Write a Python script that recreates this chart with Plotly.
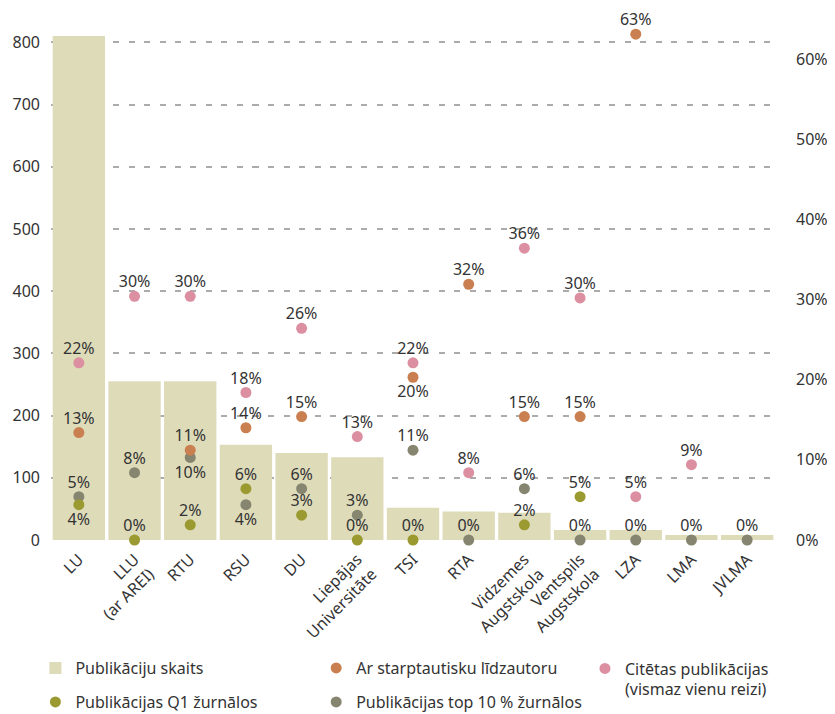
import plotly.graph_objects as go

# ---------------- data ----------------
categories = ["LU", "LLU<br>(ar AREI)", "RTU", "RSU", "DU", "Liepājas<br>Universitāte",
              "TSI", "RTA", "Vidzemes<br>Augstskola", "Ventspils<br>Augstskola",
              "LZA", "LMA", "JVLMA"]
publications = [810, 255, 255, 153, 140, 133, 52, 46, 44, 16, 16, 8, 8]
intl_coauthor = [13.4, None, 11.2, 14.0, 15.4, None, 20.3, 31.9, 15.4, 15.4, 63.1, None, None]
cited = [22.1, 30.4, 30.4, 18.4, 26.4, 12.9, 22.1, 8.4, 36.4, 30.2, 5.4, 9.4, None]
q1_journals = [4.4, 0, 1.9, 6.4, 3.1, 0, 0, None, 1.9, 5.4, None, None, None]
top10_journals = [5.4, 8.4, 10.3, 4.4, 6.4, 3.1, 11.2, 0, 6.4, 0, 0, 0, 0]
left_ticks = [0, 100, 200, 300, 400, 500, 600, 700, 800]
right_ticks = [0, 10, 20, 30, 40, 50, 60]

# ---------------- style ----------------
FONT = "Noto Sans"
TXT = "#333333"
C_BAR = "#dedbb9"
C_INTL = "#c97f4f"
C_CITED = "#dc8fa1"
C_Q1 = "#9b9a31"
C_TOP10 = "#86856f"

OFF = 8  # default page margin around the figure
W, H = 835 - OFF, 714 - OFF
M_L, M_R, M_T, M_B = 50.6 - OFF, 59.8, 20 - OFF, 174
PW, PH = W - M_L - M_R, H - M_T - M_B
PX_PER_UNIT_L = 0.6221
PX_PER_PCT = 8.017
DOT = 11
# invisible "spacer" marker sizes that set the label distance from the dot
SPACER_TOP, SPACER_BOTTOM = 6.2, 11.5


def label_pos(n, bottom_idx=()):
    return ["bottom center" if i in bottom_idx else "top center" for i in range(n)]


def labels(vals):
    return ["" if v is None else f"{round(v)}%" for v in vals]


def px_x(p):  # page pixel -> paper fraction
    return (p - OFF - M_L) / PW


def px_y(p):
    return 1 - (p - OFF - M_T) / PH


fig = go.Figure()

fig.add_trace(go.Bar(
    x=categories, y=publications, name="Publikāciju skaits",
    marker=dict(color=C_BAR, line=dict(width=0)),
    legend="legend", hoverinfo="skip",
))

series = [
    (top10_journals, "Publikācijas top 10 % žurnālos", C_TOP10, "legend5", (2, 3)),
    (q1_journals, "Publikācijas Q1 žurnālos", C_Q1, "legend4", (0,)),
    (intl_coauthor, "Ar starptautisku līdzautoru", C_INTL, "legend2", (6,)),
    (cited, "Citētas publikācijas<br>(vismaz vienu reizi)", C_CITED, "legend3", ()),
]
for vals, name, col, leg, bottoms in series:
    fig.add_trace(go.Scatter(
        x=categories, y=vals, name=name, mode="markers", yaxis="y2",
        marker=dict(color=col, size=DOT, line=dict(width=0)),
        legend=leg, hoverinfo="skip", cliponaxis=False,
    ))

for vals, name, col, leg, bottoms in series:
    pos = label_pos(len(vals), bottoms)
    fig.add_trace(go.Scatter(
        x=categories, y=vals, mode="markers+text", yaxis="y2", showlegend=False,
        marker=dict(color="rgba(0,0,0,0)", line=dict(width=0),
                    size=[SPACER_BOTTOM if p.startswith("bottom") else SPACER_TOP for p in pos]),
        text=labels(vals), textposition=pos,
        textfont=dict(family=FONT, size=16, color=TXT),
        hoverinfo="skip", cliponaxis=False,
    ))

fig.update_layout(
    template="none",
    width=W, height=H,
    margin=dict(l=M_L, r=M_R, t=M_T, b=M_B, autoexpand=False),
    paper_bgcolor="white", plot_bgcolor="white",
    font=dict(family=FONT, size=16, color=TXT),
    bargap=0.06,
    showlegend=True,
    xaxis=dict(
        range=[-0.5, len(categories) - 0.5],
        tickangle=-45, showgrid=False, showline=False, zeroline=False,
        tickfont=dict(family=FONT, size=16, color=TXT), ticks="", automargin=False,
        ticklabelstandoff=6,
    ),
    yaxis=dict(
        range=[0, PH / PX_PER_UNIT_L], tickvals=left_ticks,
        ticktext=[str(v) for v in left_ticks],
        showgrid=True, gridcolor="#ababab", gridwidth=1.5, griddash="6px,9.5px",
        zeroline=False, showline=False, ticks="", ticklabelstandoff=10,
        tickfont=dict(family=FONT, size=16, color=TXT), automargin=False,
    ),
    yaxis2=dict(
        overlaying="y", side="right", range=[0, PH / PX_PER_PCT],
        tickvals=right_ticks, ticktext=[f"{v}%" for v in right_ticks],
        showgrid=False, zeroline=False,
        showline=False, ticks="", ticklabelstandoff=20, automargin=False,
        tickfont=dict(family=FONT, size=16, color=TXT),
    ),
)

leg_common = dict(font=dict(family=FONT, size=16, color=TXT), bgcolor="rgba(0,0,0,0)",
                  xanchor="left", yanchor="middle", valign="top", itemclick=False,
                  borderwidth=0)
fig.update_layout(
    legend=dict(x=px_x(35), y=px_y(668), **leg_common),
    legend2=dict(x=px_x(316), y=px_y(668), **leg_common),
    legend3=dict(x=px_x(585), y=px_y(679), **leg_common),
    legend4=dict(x=px_x(35), y=px_y(702), **leg_common),
    legend5=dict(x=px_x(316), y=px_y(702), **leg_common),
)

fig.write_html("out.html")
